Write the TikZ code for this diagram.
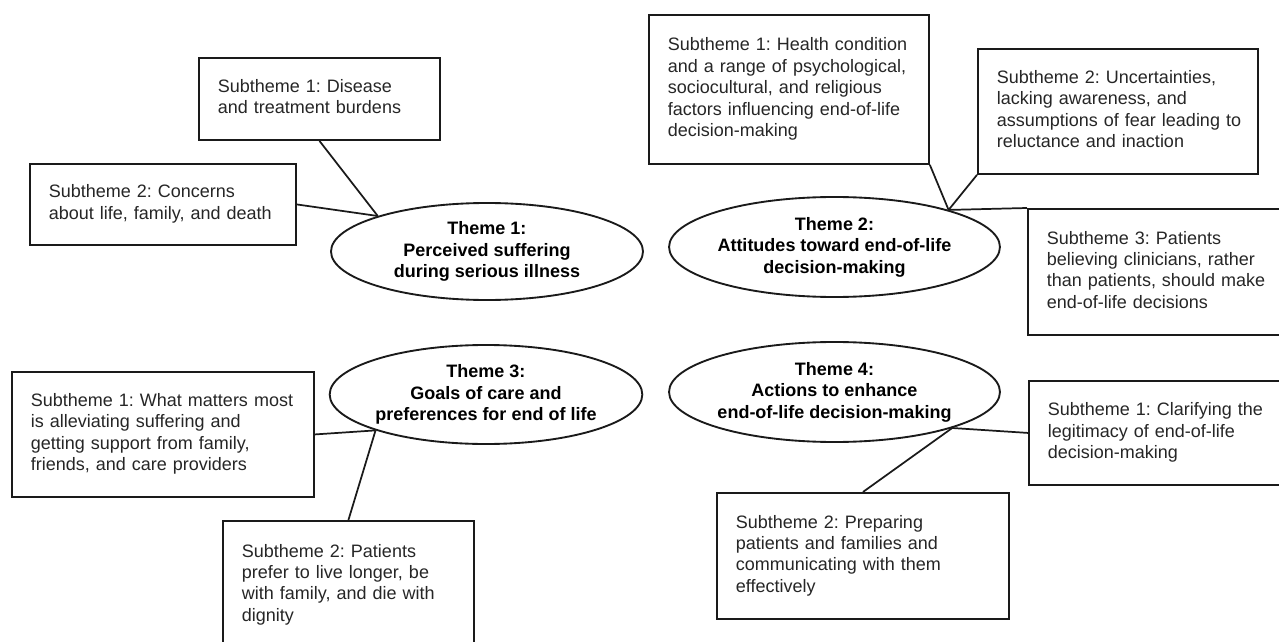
\documentclass[tikz,border=0pt]{standalone}
\usepackage{fontspec}
\setmainfont{Liberation Sans}
\usetikzlibrary{shapes.geometric}
\frenchspacing
\newcommand{\mySubFont}{\fontsize{13.5pt}{16.1pt}\selectfont\frenchspacing}
\newcommand{\myThemeFont}{\fontsize{13.5pt}{16.1pt}\selectfont\bfseries\frenchspacing}
\newcommand{\lns}[1]{\begin{tabular}{@{}l@{}}#1\end{tabular}}
\definecolor{subtext}{HTML}{262626}
\definecolor{edge}{HTML}{1A1A1A}
\tikzset{
  subbox/.style={draw=edge, line width=1.4pt, rectangle, anchor=north west,
    inner xsep=14.25pt, inner ysep=0pt, align=left, font=\mySubFont, text=subtext},
  themebox/.style={draw=edge, line width=1.4pt, ellipse, inner sep=0pt,
    align=center, font=\myThemeFont, text=black},
  link/.style={draw=edge, line width=1.3pt}
}
\begin{document}
\begin{tikzpicture}[x=0.75pt,y=-0.75pt]
\useasboundingbox (0,0) rectangle (1279,642);
\fill[white] (0,0) rectangle (1279,642);
\clip (0,0) rectangle (1279,642);

% Theme 1
\node[themebox, minimum width=234pt, minimum height=72.75pt] (t1) at (487,251.5)
  {Theme 1:\\Perceived suffering\\during serious illness};
\node[subbox, text width=152.25pt, minimum height=61.5pt] (a1) at (198,57)
  {\lns{Subtheme 1: Disease\\and treatment burdens}};
\node[subbox, text width=171pt, minimum height=60.75pt] (a2) at (29,163)
  {\lns{Subtheme 2: Concerns\\about life, family, and death}};
\draw[link] (a1.south) -- (t1.162);
\draw[link] (a2.east) -- (t1.162);

% Theme 2
\node[themebox, minimum width=236.25pt, minimum height=75pt] (t2) at (834.5,247)
  {Theme 2:\\Attitudes toward end-of-life\\decision-making};
\node[subbox, text width=181.5pt, minimum height=111.75pt] (b1) at (648,14)
  {\lns{Subtheme 1: Health condition\\and a range of psychological,\\sociocultural, and religious\\factors influencing end-of-life\\decision-making}};
\node[subbox, text width=181.5pt, minimum height=93.75pt] (b2) at (977,48)
  {\lns{Subtheme 2: Uncertainties,\\lacking awareness, and\\assumptions of fear leading to\\reluctance and inaction}};
\node[subbox, text width=176.25pt, minimum height=94.5pt] (b3) at (1027,208)
  {\lns{Subtheme 3: Patients\\believing clinicians, rather\\than patients, should make\\end-of-life decisions}};
\draw[link] (b1.south east) -- (t2.18);
\draw[link] (b2.south west) -- (t2.18);
\draw[link] (t2.18) -- (b3.north west);

% Theme 3
\node[themebox, minimum width=234pt, minimum height=74.25pt] (t3) at (486,394.5)
  {Theme 3:\\Goals of care and\\preferences for end of life};
\node[subbox, text width=198pt, minimum height=93.75pt] (c1) at (11,371)
  {\lns{Subtheme 1: What matters most\\is alleviating suffering and\\getting support from family,\\friends, and care providers}};
\node[subbox, text width=159.75pt, minimum height=96pt] (c2) at (222,520)
  {\lns{Subtheme 2: Patients\\prefer to live longer, be\\with family, and die with\\dignity}};
\draw[link] (c1.east) -- (t3.198);
\draw[link] (t3.198) -- (c2.north);

% Theme 4
\node[themebox, minimum width=236.25pt, minimum height=75pt] (t4) at (834.5,392)
  {Theme 4:\\Actions to enhance\\end-of-life decision-making};
\node[subbox, text width=175.5pt, minimum height=78pt] (d1) at (1028,380)
  {\lns{Subtheme 1: Clarifying the\\legitimacy of end-of-life\\decision-making}};
\node[subbox, text width=190.5pt, minimum height=94.5pt] (d2) at (716,492)
  {\lns{Subtheme 2: Preparing\\patients and families and\\communicating with them\\effectively}};
\draw[link] (t4.343) -- (d1.west);
\draw[link] (t4.343) -- (d2.north);
\end{tikzpicture}
\end{document}
